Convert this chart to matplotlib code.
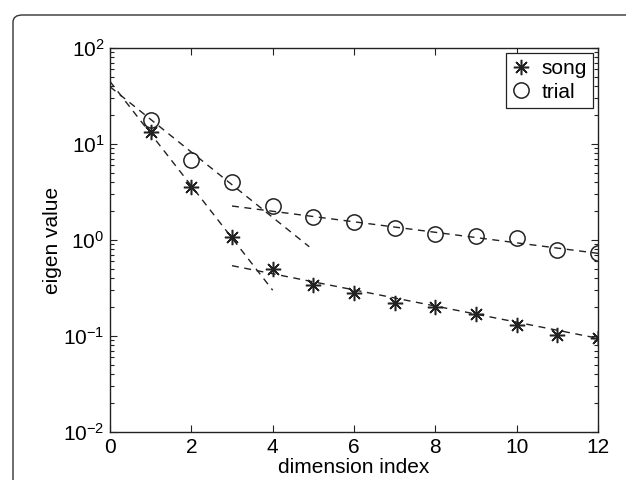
import numpy as np
import matplotlib.pyplot as plt
from matplotlib.patches import FancyBboxPatch
from matplotlib.ticker import LogLocator, NullFormatter

plt.rcParams['font.family'] = ['Liberation Sans', 'DejaVu Sans']
plt.rcParams['mathtext.fontset'] = 'custom'
plt.rcParams['mathtext.rm'] = 'Liberation Sans'

# eigen values
dims = np.arange(1, 13)
song = [13.4, 3.6, 1.07, 0.50, 0.343, 0.282, 0.222, 0.199, 0.169, 0.130, 0.102, 0.0946]
trial = [17.8, 6.8, 4.0, 2.27, 1.72, 1.55, 1.34, 1.155, 1.10, 1.04, 0.787, 0.726]

# dashed exponential fits (start/end points)
song_head_x = [0, 4]
song_head_y = [44.8, 0.30]
song_tail_x = [3, 12]
song_tail_y = [0.54, 0.0946]
trial_head_x = [0, 4.9]
trial_head_y = [39.5, 0.85]
trial_tail_x = [3, 12]
trial_tail_y = [2.26, 0.726]

fig = plt.figure(figsize=(6.26, 4.8), dpi=100)
ax = fig.add_axes([0.1757, 0.1, 0.7796, 0.8])

# rounded frame around the panel
frame = FancyBboxPatch((13 / 626, -0.2), 1.2, 1.2 - 15 / 480,
                       boxstyle='round,pad=0,rounding_size=0.015',
                       transform=fig.transFigure, facecolor='none',
                       edgecolor='#333333', linewidth=1.0, clip_on=False)
fig.patches.append(frame)

dash = (0, (5, 4))
for xs, ys in [(song_head_x, song_head_y), (song_tail_x, song_tail_y),
               (trial_head_x, trial_head_y), (trial_tail_x, trial_tail_y)]:
    ax.plot(xs, ys, color='#222222', linestyle=dash, linewidth=1.0)

ax.plot(dims, song, linestyle='none', marker=(8, 2, 0), markersize=11,
        color='#222222', markeredgewidth=1.1, label='song')
ax.plot(dims, trial, linestyle='none', marker='o', markersize=11,
        markerfacecolor='none', markeredgecolor='#222222',
        markeredgewidth=1.1, label='trial')

ax.set_yscale('log')
ax.set_xlim(0, 12)
ax.set_ylim(1e-2, 1e2)
ax.set_xticks([0, 2, 4, 6, 8, 10, 12])
ax.yaxis.set_major_locator(LogLocator(base=10, numticks=10))
ax.yaxis.set_minor_locator(LogLocator(base=10, subs=np.arange(2, 10), numticks=10))
ax.yaxis.set_minor_formatter(NullFormatter())
ax.tick_params(which='both', direction='in', top=True, right=True,
               labelsize=15, width=0.8, color='#222222')
ax.tick_params(which='major', length=5, pad=4)
ax.tick_params(which='minor', length=3)
for s in ax.spines.values():
    s.set_linewidth(1.0)
    s.set_color('#222222')

ax.set_xlabel('dimension index', fontsize=15, labelpad=1)
ax.set_ylabel('eigen value', fontsize=15, labelpad=1)

leg = ax.legend(loc='upper right', bbox_to_anchor=(1, 1), borderaxespad=0.25,
                fontsize=15, fancybox=False, framealpha=1, edgecolor='#222222',
                handlelength=0.9, handletextpad=0.5, labelspacing=0.2,
                borderpad=0.3)
leg.get_frame().set_linewidth(0.9)

fig.savefig('out.png', dpi=100)
